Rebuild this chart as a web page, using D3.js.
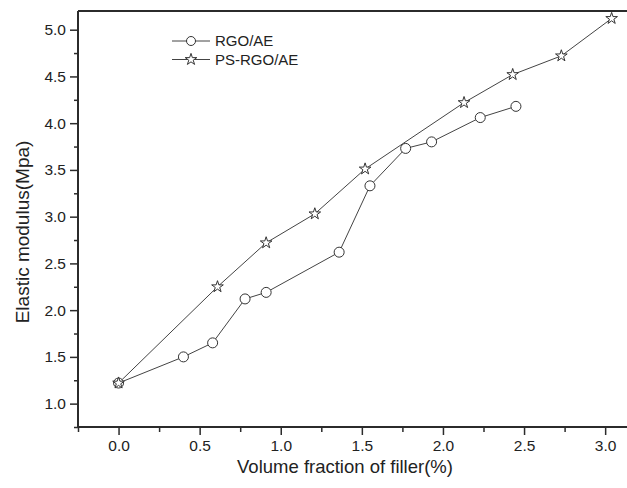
<!DOCTYPE html>
<html lang="en">
<head>
<meta charset="UTF-8">
<title>Elastic modulus</title>
<style>
  body { margin: 0; background: #fff; }
  svg text { font-family: "Liberation Sans", Arial, sans-serif; fill: #222; }
</style>
</head>
<body>
<svg></svg>
<script src="https://d3js.org/d3.v7.min.js"></script>
<script>
// data
var rgoX = [0, 0.40, 0.58, 0.78, 0.91, 1.36, 1.55, 1.77, 1.93, 2.23, 2.45];
var rgoY = [1.22, 1.50, 1.65, 2.12, 2.19, 2.62, 3.33, 3.73, 3.80, 4.06, 4.18];
var psX = [0, 0.61, 0.91, 1.21, 1.52, 2.13, 2.43, 2.73, 3.04];
var psY = [1.22, 2.25, 2.72, 3.03, 3.51, 4.22, 4.52, 4.72, 5.12];
var seriesNames = ["RGO/AE", "PS-RGO/AE"];
var xTicks = [0, 0.5, 1, 1.5, 2, 2.5, 3];
var yTicks = [1, 1.5, 2, 2.5, 3, 3.5, 4, 4.5, 5];
var xTitle = "Volume fraction of filler(%)";
var yTitle = "Elastic modulus(Mpa)";

var svgWidth = 627, svgHeight = 488;
var margin = { top: 11, left: 78 };
var plotH = 416;

var svg = d3.select("svg").attr("width", svgWidth).attr("height", svgHeight);

// plot runs past the right edge, as in the picture
var x = d3.scaleLinear().domain([-0.25, 3.35]).range([margin.left, margin.left + 3.6 * 162.2]);
var y = d3.scaleLinear().domain([0.75, 5.2]).range([margin.top + plotH, margin.top]);

var ink = "#2b2b2b";

// top frame line
svg.append("line")
  .attr("x1", x(-0.25)).attr("x2", x(3.35))
  .attr("y1", y(5.2)).attr("y2", y(5.2))
  .attr("stroke", ink).attr("stroke-width", 2);

// minor ticks
var xMinor = d3.range(-0.25, 3.3, 0.25).filter(function(v) { return Math.abs(v * 2 - Math.round(v * 2)) > 0.01; });
var yMinor = d3.range(0.75, 5.2, 0.25).filter(function(v) { return Math.abs(v * 2 - Math.round(v * 2)) > 0.01; });

svg.append("g")
  .attr("transform", "translate(0," + y(0.75) + ")")
  .call(d3.axisBottom(x).tickValues(xMinor).tickSize(5).tickFormat(""))
  .select(".domain").remove();
svg.append("g")
  .attr("transform", "translate(0," + y(0.75) + ")")
  .call(d3.axisBottom(x).tickValues(xTicks).tickSize(8).tickPadding(5).tickFormat(d3.format(".1f")))
  .call(function(g) {
    g.select(".domain").attr("stroke-width", 2).attr("d", "M" + x(-0.25) + ",0H" + x(3.35));
  });

svg.append("g")
  .attr("transform", "translate(" + x(-0.25) + ",0)")
  .call(d3.axisLeft(y).tickValues(yMinor).tickSize(4).tickFormat(""))
  .select(".domain").remove();
svg.append("g")
  .attr("transform", "translate(" + x(-0.25) + ",0)")
  .call(d3.axisLeft(y).tickValues(yTicks).tickSize(8).tickPadding(4).tickFormat(d3.format(".1f")))
  .call(function(g) {
    g.select(".domain").attr("stroke-width", 2).attr("d", "M0," + y(0.75) + "V" + y(5.2));
  });

svg.selectAll(".tick line").attr("stroke", ink).attr("stroke-width", 1.5);
svg.selectAll(".domain").attr("stroke", ink);
svg.selectAll(".tick text").style("font-size", "15.5px").attr("fill", "#222");

// axis titles
svg.append("text")
  .attr("x", 345).attr("y", 473)
  .attr("text-anchor", "middle")
  .style("font-size", "18.5px")
  .text(xTitle);

svg.append("text")
  .attr("transform", "translate(29," + 232 + ") rotate(-90)")
  .attr("text-anchor", "middle")
  .style("font-size", "19px")
  .text(yTitle);

// series
var rgo = rgoX.map(function(v, i) { return [v, rgoY[i]]; });
var ps = psX.map(function(v, i) { return [v, psY[i]]; });

var line = d3.line().x(function(d) { return x(d[0]); }).y(function(d) { return y(d[1]); });
var star = d3.symbol().type(d3.symbolStar).size(42);

svg.append("path").datum(ps)
  .attr("fill", "none").attr("stroke", "#444").attr("stroke-width", 1)
  .attr("d", line);
svg.append("path").datum(rgo)
  .attr("fill", "none").attr("stroke", "#444").attr("stroke-width", 1)
  .attr("d", line);

svg.selectAll(".rgo").data(rgo).enter().append("circle")
  .attr("class", "rgo")
  .attr("cx", function(d) { return x(d[0]); })
  .attr("cy", function(d) { return y(d[1]); })
  .attr("r", 5)
  .attr("fill", "#fff").attr("stroke", "#333").attr("stroke-width", 1);

svg.selectAll(".ps").data(ps).enter().append("path")
  .attr("class", "ps")
  .attr("transform", function(d) { return "translate(" + x(d[0]) + "," + y(d[1]) + ")"; })
  .attr("d", star)
  .attr("fill", "#fff").attr("stroke", "#333").attr("stroke-width", 1);

// legend
var legend = svg.append("g");
seriesNames.forEach(function(name, i) {
  var ly = 41 + i * 18.5;
  legend.append("line")
    .attr("x1", 172).attr("x2", 210).attr("y1", ly).attr("y2", ly)
    .attr("stroke", "#444").attr("stroke-width", 1);
  if (i === 0) {
    legend.append("circle").attr("cx", 191).attr("cy", ly).attr("r", 4.5)
      .attr("fill", "#fff").attr("stroke", "#333");
  } else {
    legend.append("path").attr("transform", "translate(191," + ly + ")")
      .attr("d", star).attr("fill", "#fff").attr("stroke", "#333");
  }
  legend.append("text")
    .attr("x", 215).attr("y", ly).attr("dy", "0.36em")
    .style("font-size", "15px")
    .text(name);
});
</script>
</body>
</html>
